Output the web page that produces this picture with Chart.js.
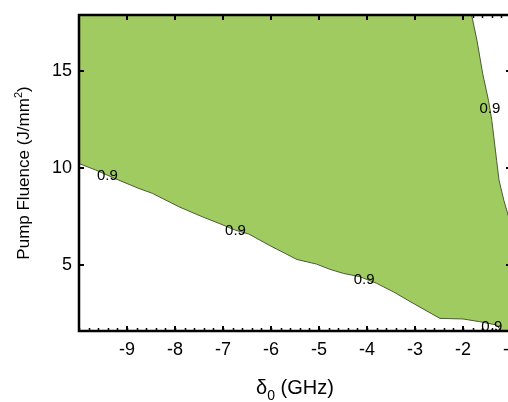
<!DOCTYPE html>
<html>
<head>
<meta charset="utf-8">
<script src="https://cdn.jsdelivr.net/npm/chart.js@4.4.0/dist/chart.umd.min.js"></script>
<style>
  html, body { margin: 0; padding: 0; background: #fff; overflow: hidden; }
  canvas { display: block; }
</style>
</head>
<body>
<canvas id="myChart" width="530" height="402"></canvas>
<script>
// 0.9 contour, lower branch: detuning (GHz) -> pump fluence (J/mm^2)
var lowerDelta   = [-10, -9.65, -9.17, -8.75, -8.47, -7.92, -7.43, -7.08, -6.74, -6.46, -6.02, -5.46,
                    -5.05, -4.77, -4.49, -4.15, -3.80, -3.45, -3.04, -2.48, -2.00, -1.65, -1.30, -1.20];
var lowerFluence = [10.24, 9.90, 9.38, 8.95, 8.70, 8.01, 7.49, 7.15, 6.80, 6.60, 6.00, 5.29,
                    5.05, 4.78, 4.57, 4.40, 4.06, 3.62, 3.03, 2.25, 2.22, 2.08, 1.91, 1.60];

// 0.9 contour, right branch, from the top edge downwards
var edgeDelta   = [-1.82, -1.71, -1.59, -1.47, -1.40, -1.30, -1.25, -1.15, -1.06, -1.00];
var edgeFluence = [17.90, 16.60, 14.88, 13.50, 12.47, 10.41, 9.38, 8.35, 7.58, 7.10];

// contour level and where it is written on the lines
var level = 0.9;
var labelDelta   = [-9.41, -6.74, -4.06, -1.40, -1.44];
var labelFluence = [9.60, 6.78, 4.23, 1.82, 13.08];

var xTicks = [-9, -8, -7, -6, -5, -4, -3, -2, -1];
var yTicks = [5, 10, 15];
var xMin = -10, xMax = -1, yMin = 1.6, yMax = 17.9;

var green = '#a0cb60';
var lineColor = '#4b5a3c';
var font = 'Liberation Sans';

function pts(xs, ys) {
  return xs.map(function (x, i) { return { x: x, y: ys[i] }; });
}

// filled region (level > 0.9): above the lower branch, left of the right branch
var region = pts(lowerDelta, lowerFluence);
region.push({ x: xMax, y: yMin });
for (var i = edgeDelta.length - 1; i >= 0; i--) {
  region.push({ x: edgeDelta[i], y: edgeFluence[i] });
}
region.push({ x: xMin, y: yMax });

// frame, inward ticks, contour labels and axis titles
var framePlugin = {
  id: 'frame',
  beforeDatasetsDraw: function (chart) {
    var ctx = chart.ctx, a = chart.chartArea, xs = chart.scales.x;
    ctx.save();
    ctx.strokeStyle = '#000';
    ctx.lineWidth = 1.5;
    ctx.beginPath();
    for (var v = xMin; v <= xMax + 1e-6; v += 0.2) {
      var px = Math.round(xs.getPixelForValue(v)) + 0.5;
      ctx.moveTo(px, a.bottom); ctx.lineTo(px, a.bottom - 3);
      ctx.moveTo(px, a.top); ctx.lineTo(px, a.top + 3);
    }
    ctx.stroke();
    ctx.restore();
  },
  afterDatasetsDraw: function (chart) {
    var ctx = chart.ctx, a = chart.chartArea, xs = chart.scales.x, ys = chart.scales.y;
    ctx.save();
    ctx.strokeStyle = '#000';
    ctx.lineWidth = 2;
    ctx.beginPath();
    xTicks.forEach(function (v) {
      var px = Math.round(xs.getPixelForValue(v));
      ctx.moveTo(px, a.bottom); ctx.lineTo(px, a.bottom - 5);
      ctx.moveTo(px, a.top); ctx.lineTo(px, a.top + 5);
    });
    yTicks.forEach(function (v) {
      var py = Math.round(ys.getPixelForValue(v));
      ctx.moveTo(a.left, py); ctx.lineTo(a.left + 5, py);
      ctx.moveTo(a.right, py); ctx.lineTo(a.right - 5, py);
    });
    ctx.stroke();

    ctx.lineWidth = 2.5;
    ctx.beginPath();
    ctx.rect(a.left, a.top, a.right - a.left, a.bottom - a.top);
    ctx.stroke();

    // contour labels
    ctx.fillStyle = '#000';
    ctx.font = '15px "' + font + '"';
    ctx.textAlign = 'center';
    ctx.textBaseline = 'middle';
    labelDelta.forEach(function (d, i) {
      ctx.fillText(level.toFixed(1), xs.getPixelForValue(d), ys.getPixelForValue(labelFluence[i]));
    });
    ctx.restore();
  },
  afterDraw: function (chart) {
    var ctx = chart.ctx, a = chart.chartArea;
    ctx.save();
    ctx.fillStyle = '#000';
    ctx.textBaseline = 'alphabetic';
    ctx.textAlign = 'left';

    // x title: delta_0 (GHz)
    var big = '20px "' + font + '"', small = '14px "' + font + '"';
    ctx.font = big;
    var w1 = ctx.measureText('\u03b4').width;
    var w3 = ctx.measureText(' (GHz)').width;
    ctx.font = small;
    var w2 = ctx.measureText('0').width;
    var x0 = (a.left + a.right) / 2 - (w1 + w2 + w3) / 2;
    var base = 394;
    ctx.font = big;
    ctx.fillText('\u03b4', x0, base);
    ctx.font = small;
    ctx.fillText('0', x0 + w1, base + 6);
    ctx.font = big;
    ctx.fillText(' (GHz)', x0 + w1 + w2, base);

    // y title: Pump Fluence (J/mm^2)
    var yf = '17px "' + font + '"', ys2 = '11px "' + font + '"';
    ctx.font = yf;
    var t1 = 'Pump Fluence (J/mm', t3 = ')';
    var v1 = ctx.measureText(t1).width, v3 = ctx.measureText(t3).width;
    ctx.font = ys2;
    var v2 = ctx.measureText('2').width;
    ctx.translate(29, (a.top + a.bottom) / 2);
    ctx.rotate(-Math.PI / 2);
    var s0 = -(v1 + v2 + v3) / 2;
    ctx.font = yf;
    ctx.fillText(t1, s0, 0);
    ctx.font = ys2;
    ctx.fillText('2', s0 + v1, -7);
    ctx.font = yf;
    ctx.fillText(t3, s0 + v1 + v2, 0);
    ctx.restore();
  }
};

var ctx = document.getElementById('myChart').getContext('2d');

var chart = new Chart(ctx, {
  type: 'line',
  data: {
    datasets: [{
      data: region,
      fill: 'shape',
      backgroundColor: green,
      borderWidth: 0,
      borderColor: 'transparent',
      pointRadius: 0,
      order: 3
    }, {
      data: pts(lowerDelta, lowerFluence),
      fill: false,
      borderColor: lineColor,
      borderWidth: 1,
      pointRadius: 0,
      order: 1
    }, {
      data: pts(edgeDelta, edgeFluence),
      fill: false,
      borderColor: lineColor,
      borderWidth: 1,
      pointRadius: 0,
      order: 1
    }]
  },
  options: {
    responsive: false,
    animation: false,
    layout: { padding: { left: 0, right: 19, top: 15, bottom: 0 } },
    plugins: {
      legend: { display: false },
      tooltip: { enabled: false }
    },
    elements: { line: { tension: 0 } },
    scales: {
      x: {
        type: 'linear',
        min: xMin,
        max: xMax,
        grid: { display: false, drawTicks: false },
        border: { display: false },
        afterBuildTicks: function (s) { s.ticks = xTicks.map(function (v) { return { value: v }; }); },
        afterFit: function (s) { s.height = 71; s.paddingLeft = 0; s.paddingRight = 0; },
        ticks: {
          color: '#000',
          padding: 8,
          font: { family: font, size: 18 },
          callback: function (v) { return String(v); }
        }
      },
      y: {
        type: 'linear',
        min: yMin,
        max: yMax,
        grid: { display: false, drawTicks: false },
        border: { display: false },
        afterBuildTicks: function (s) { s.ticks = yTicks.map(function (v) { return { value: v }; }); },
        afterFit: function (s) { s.width = 79; s.paddingTop = 0; s.paddingBottom = 0; },
        ticks: {
          color: '#000',
          padding: 7,
          font: { family: font, size: 18 },
          callback: function (v) { return String(v); }
        }
      }
    }
  },
  plugins: [framePlugin]
});
</script>
</body>
</html>
